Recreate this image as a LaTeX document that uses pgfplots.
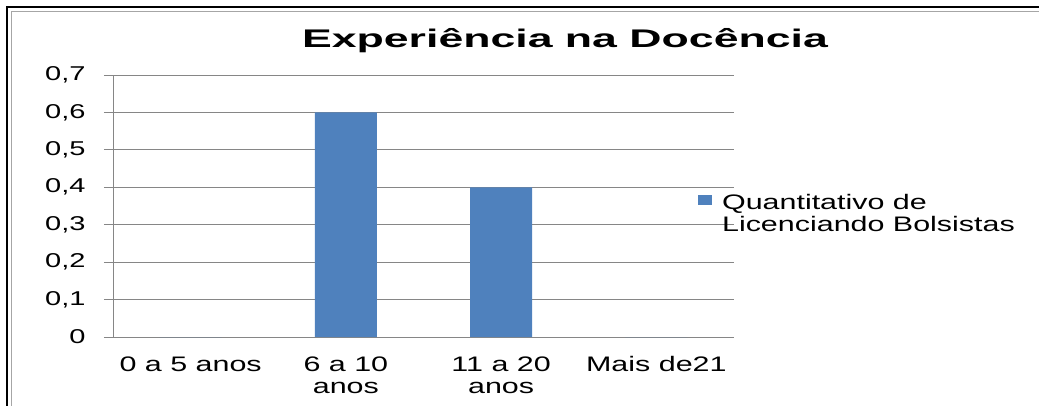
\documentclass[border=0pt]{standalone}
\usepackage{fontspec}
\setmainfont{Liberation Sans}[FakeStretch=1.45]
\newfontfamily\titlefont{Liberation Sans}[FakeStretch=1.75]
\usepackage{pgfplots}
\pgfplotsset{compat=1.18}
\definecolor{barblue}{RGB}{79,129,189}
\definecolor{axgray}{RGB}{134,134,134}
\newcommand{\lblfont}{\fontsize{21}{22.5}\selectfont}
\begin{document}
\begin{tikzpicture}
\path[use as bounding box] (0pt,0pt) rectangle (1039pt,-405pt);
\draw[line width=2.5pt] (7pt,-600pt) -- (7pt,-7pt) -- (1300pt,-7pt);
\draw[black!35, line width=1pt] (11pt,-600pt) -- (11pt,-11pt) -- (1300pt,-11pt);
\node[anchor=base, font=\titlefont\bfseries\fontsize{25.5}{30}\selectfont] at (565pt,-47pt) {Experiência na Docência};
\begin{axis}[
  at={(113pt,-337pt)}, anchor=south west,
  scale only axis, width=621pt, height=262pt,
  xmin=-0.5, xmax=3.5, ymin=0, ymax=0.7,
  axis lines*=left,
  axis line style={axgray, line width=0.8pt, -},
  ytick={0,0.1,0.2,0.3,0.4,0.5,0.6,0.7},
  ymajorgrids, grid style={axgray, line width=0.8pt},
  tick align=outside, major tick length=9pt,
  tick style={axgray, line width=0.8pt},
  xtick={0,1,2,3},
  xticklabels={0 a 5 anos, {6 a 10\\anos}, {11 a 20\\anos}, Mais de21},
  xticklabel style={align=center, font=\lblfont, yshift=-7pt},
  yticklabel style={font=\fontsize{20}{22}\selectfont, xshift=-15pt},
  major x tick style={draw=none},
  extra x ticks={-0.5,0.5,1.5,2.5,3.5}, extra x tick labels={},
  extra x tick style={major x tick style={axgray, line width=0.8pt}},
  /pgf/number format/.cd, use comma, fixed, precision=1, assume math mode=true,
  /pgfplots/.cd,
  legend style={draw=none, fill=none, at={(0.937,0.561)}, anchor=north west, font=\lblfont},
  legend image code/.code={\fill[barblue] (0pt,-2pt) rectangle (14pt,8pt);},
]
\addplot[ybar, bar width=0.4, fill=barblue, draw=none] coordinates {(0,0) (1,0.6) (2,0.4) (3,0)};
\addlegendentry{\hskip8pt\vtop{\hbox{Quantitativo de}\hbox{Licenciando Bolsistas}}}
\end{axis}
\end{tikzpicture}
\end{document}
